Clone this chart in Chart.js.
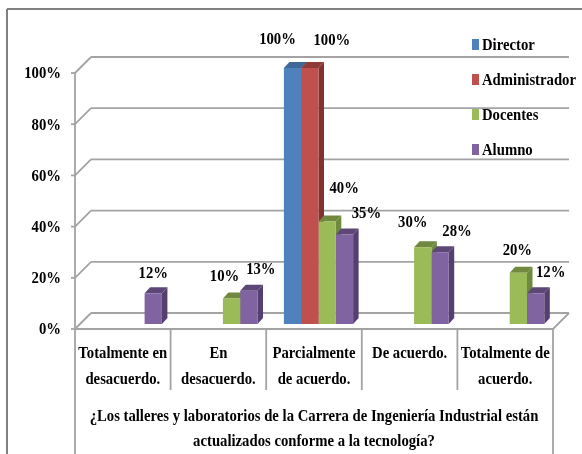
<!DOCTYPE html>
<html lang="es">
  <head>
    <meta charset="UTF-8" />
    <title>Talleres y laboratorios</title>
    <script src="https://cdn.jsdelivr.net/npm/chart.js"></script>
    <style>
      body {
        margin: 0;
        background: #fff;
      }
      #wrap {
        width: 582px;
        height: 454px;
      }
      #chart {
        filter: blur(0.4px);
      }
    </style>
  </head>
  <body>
    <div id="wrap"><canvas id="chart" width="582" height="454"></canvas></div>
    <script>
      const categories = [
        ["Totalmente en", "desacuerdo."],
        ["En", "desacuerdo."],
        ["Parcialmente", "de acuerdo."],
        ["De acuerdo."],
        ["Totalmente de", "acuerdo."],
      ];
      const director = [null, null, 100, null, null];
      const administrador = [null, null, 100, null, null];
      const docentes = [null, 10, 40, 30, 20];
      const alumno = [12, 13, 35, 28, 12];
      const axisTitle = [
        "¿Los talleres y laboratorios de la Carrera de Ingeniería Industrial están",
        "actualizados conforme a la tecnología?",
      ];

      const FONT = "bold 17px 'Liberation Serif', serif";
      const SQUEEZE = 0.865; // the picture has tall narrow letters
      const GRID = "#a3a3a3";
      const palette = [
        { front: "#4f81bd", side: "#3a5f8c", top: "#3f6797" },
        { front: "#c0504d", side: "#7f3331", top: "#8e3b39" },
        { front: "#9bbb59", side: "#6f8a3e", top: "#71893f" },
        { front: "#8064a2", side: "#553f70", top: "#5c4776" },
      ];

      // bars stand a little inside the floor, depth is the 3d side
      const inset = { x: 4.5, y: -5 };
      const depth = { x: 5.5, y: -6 };
      const wall = { x: 16, y: -16 };
      // hand placed data labels, per series and category
      const labelNudge = [
        [null, null, [-15, -28], null, null],
        [null, null, [22, -27], null, null],
        [null, [-7, -22], [17, -33], [-10, -25], [-1, -22]],
        [[0, -20], [12, -21], [22, -21], [17, -21], [15, -21]],
      ];

      const line = (ctx, x1, y1, x2, y2) => {
        ctx.beginPath();
        ctx.moveTo(x1, y1);
        ctx.lineTo(x2, y2);
        ctx.stroke();
      };
      const poly = (ctx, pts, color) => {
        ctx.fillStyle = color;
        ctx.beginPath();
        pts.forEach((p, i) => (i ? ctx.lineTo(p[0], p[1]) : ctx.moveTo(p[0], p[1])));
        ctx.closePath();
        ctx.fill();
      };
      const label = (ctx, str, x, y, align) => {
        ctx.save();
        ctx.translate(x, y);
        ctx.scale(SQUEEZE, 1);
        ctx.font = FONT;
        ctx.fillStyle = "#000";
        ctx.textAlign = align || "center";
        ctx.textBaseline = "middle";
        ctx.fillText(str, 0, 0);
        ctx.restore();
      };

      const decor = {
        id: "decor",
        beforeDatasetsDraw(chart) {
          const { ctx, chartArea: area, scales } = chart;
          ctx.save();
          // outer frame, only top and left show in the picture
          ctx.strokeStyle = "#808080";
          ctx.lineWidth = 2;
          line(ctx, 7, chart.height, 7, 9);
          line(ctx, 7, 9, chart.width, 9);

          ctx.strokeStyle = GRID;
          ctx.lineWidth = 1.8;
          scales.y.ticks.forEach((t) => {
            const y = scales.y.getPixelForValue(t.value);
            line(ctx, area.left - 4, y, area.left, y);
            line(ctx, area.left, y, area.left + wall.x, y + wall.y);
            line(ctx, area.left + wall.x, y + wall.y, area.right + wall.x, y + wall.y);
          });
          line(ctx, area.right, area.bottom, area.right + wall.x, area.bottom + wall.y);
          line(ctx, area.left, area.top, area.left, chart.height);
          line(ctx, area.left, area.bottom, area.right, area.bottom);
          line(ctx, area.right, area.bottom, area.right, chart.height);
          const step = (area.right - area.left) / categories.length;
          for (let i = 1; i < categories.length; i++) {
            line(ctx, area.left + step * i, area.bottom, area.left + step * i, area.bottom + 61);
          }
          ctx.restore();

          ctx.save();
          ctx.translate(inset.x, inset.y);
          chart.data.datasets.forEach((ds, d) => {
            chart.getDatasetMeta(d).data.forEach((bar, i) => {
              if (ds.data[i] === null) return;
              const { x, y, base, width } = bar.getProps(["x", "y", "base", "width"]);
              const r = x + width / 2;
              const l = x - width / 2;
              poly(ctx, [[r, y], [r + depth.x, y + depth.y], [r + depth.x, base + depth.y], [r, base]], palette[d].side);
              poly(ctx, [[l, y], [l + depth.x, y + depth.y], [r + depth.x, y + depth.y], [r, y]], palette[d].top);
            });
          });
        },
        afterDatasetsDraw(chart) {
          const { ctx, chartArea: area, scales } = chart;
          ctx.restore();
          // data labels
          chart.data.datasets.forEach((ds, d) => {
            chart.getDatasetMeta(d).data.forEach((bar, i) => {
              if (ds.data[i] === null) return;
              const n = labelNudge[d][i];
              label(ctx, ds.data[i] + "%", bar.x + inset.x + n[0], bar.y + inset.y + n[1]);
            });
          });
          // legend
          chart.data.datasets.forEach((ds, d) => {
            const y = 45 + d * 35;
            ctx.fillStyle = palette[d].front;
            ctx.fillRect(472, y - 6, 7, 11);
            label(ctx, ds.label, 482, y + 1, "left");
          });
          // axis text, drawn here so it can be squeezed like the picture
          scales.y.ticks.forEach((t) => {
            label(ctx, t.label, area.left - 14, scales.y.getPixelForValue(t.value) + 1, "right");
          });
          categories.forEach((lines, i) => {
            lines.forEach((str, k) => {
              label(ctx, str, scales.x.getPixelForValue(i), area.bottom + 25 + k * 26);
            });
          });
          axisTitle.forEach((str, k) => {
            label(ctx, str, (area.left + area.right) / 2, area.bottom + 88 + k * 25);
          });
        },
      };

      new Chart(document.getElementById("chart"), {
        type: "bar",
        data: {
          labels: categories,
          datasets: [
            { label: "Director", data: director, backgroundColor: palette[0].front },
            { label: "Administrador", data: administrador, backgroundColor: palette[1].front },
            { label: "Docentes", data: docentes, backgroundColor: palette[2].front },
            { label: "Alumno", data: alumno, backgroundColor: palette[3].front },
          ],
        },
        options: {
          responsive: false,
          animation: false,
          layout: { padding: { top: 73, right: 29 } },
          datasets: { bar: { categoryPercentage: 0.724, barPercentage: 1, clip: false } },
          plugins: { legend: { display: false }, tooltip: { enabled: false } },
          scales: {
            x: {
              afterFit: (s) => {
                s.height = 125;
              },
              grid: { display: false },
              border: { display: false },
              ticks: { display: false },
            },
            y: {
              min: 0,
              max: 100,
              afterFit: (s) => {
                s.width = 75;
              },
              grid: { display: false },
              border: { display: false },
              ticks: {
                stepSize: 20,
                callback: (v) => v + "%",
                color: "rgba(0,0,0,0)",
              },
            },
          },
        },
        plugins: [decor],
      });
    </script>
  </body>
</html>
